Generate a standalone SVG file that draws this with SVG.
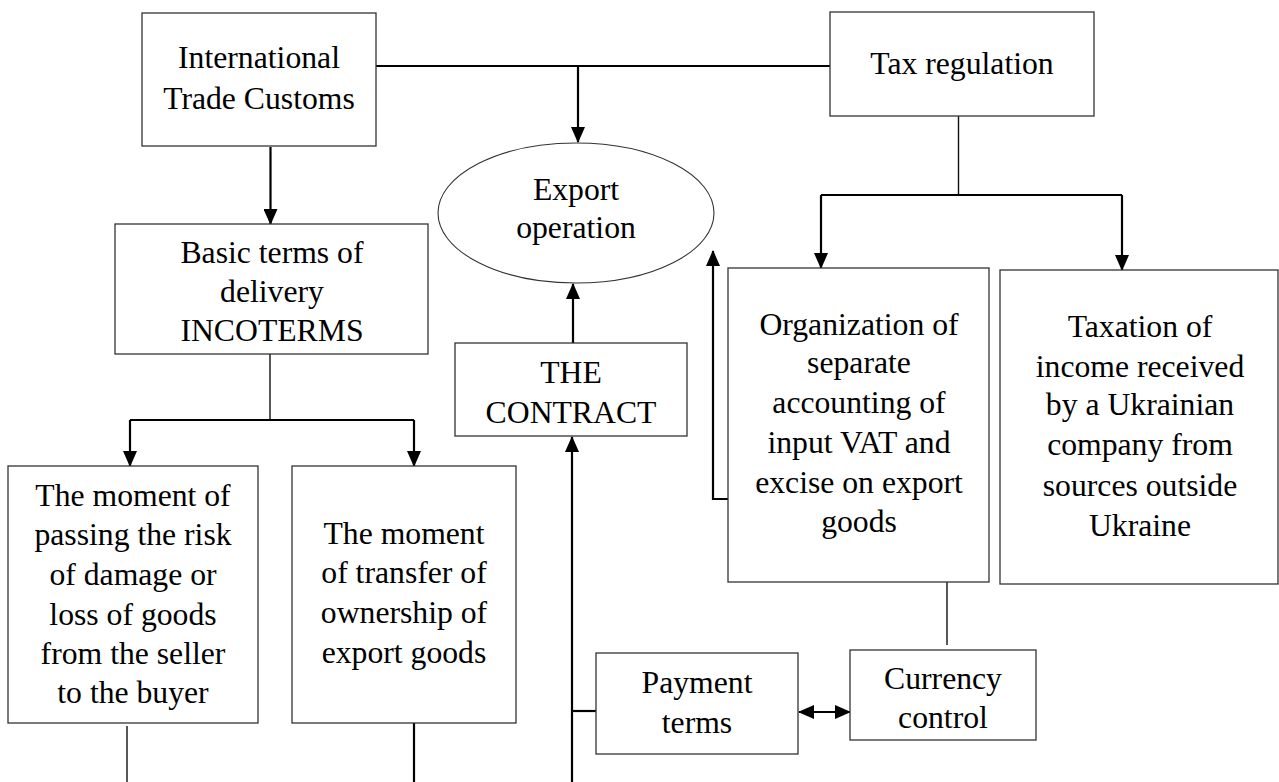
<svg xmlns="http://www.w3.org/2000/svg" width="1279" height="782" viewBox="0 0 1279 782">
  <style>
    .box { fill: #ffffff; stroke: #333333; stroke-width: 1.3; }
    .oval { fill: #ffffff; stroke: #333333; stroke-width: 1.1; }
    .lbl { font-family: "Liberation Serif", "Times New Roman", serif; font-size: 31.7px; fill: #000000; text-anchor: middle; }
    .thick { fill: none; stroke: #000000; stroke-width: 2.2; }
    .thin { fill: none; stroke: #111111; stroke-width: 1.4; }
    .arr { marker-end: url(#head); }
  </style>
  <defs>
    <marker id="head" markerUnits="userSpaceOnUse" markerWidth="16" markerHeight="14" refX="15" refY="7" orient="auto-start-reverse">
      <path d="M0,0 L16,7 L0,14 z" fill="#000000"/>
    </marker>
  </defs>

  <rect width="1279" height="782" fill="#ffffff"/>

  <!-- connectors -->
  <g id="connectors">
    <!-- customs to tax regulation, with drop into the export operation -->
    <line class="thick" x1="376" y1="66" x2="830" y2="66"/>
    <line class="thick arr" x1="578" y1="66" x2="578" y2="142"/>
    <!-- customs to delivery terms -->
    <line class="thick arr" x1="270.5" y1="147" x2="270.5" y2="224"/>
    <!-- delivery terms split -->
    <line class="thin" x1="270" y1="354" x2="270" y2="420"/>
    <polyline class="thick" points="130,420 414,420"/>
    <line class="thick arr" x1="130" y1="420" x2="130" y2="466"/>
    <line class="thick arr" x1="414" y1="420" x2="414" y2="466"/>
    <!-- tails below the moment boxes -->
    <line class="thin" x1="127" y1="726" x2="127" y2="782"/>
    <line class="thick" x1="414" y1="723" x2="414" y2="782"/>
    <!-- contract to export operation -->
    <line class="thick arr" x1="573" y1="343" x2="573" y2="284"/>
    <!-- feed into the contract from below -->
    <line class="thick arr" x1="572" y1="782" x2="572" y2="437"/>
    <line class="thick" x1="572" y1="711" x2="597" y2="711"/>
    <!-- tax regulation split -->
    <line class="thin" x1="958.5" y1="116" x2="958.5" y2="195"/>
    <line class="thick" x1="821" y1="195" x2="1122" y2="195"/>
    <line class="thick arr" x1="821" y1="195" x2="821" y2="268"/>
    <line class="thick arr" x1="1122" y1="195" x2="1122" y2="270"/>
    <!-- separate accounting back to export operation -->
    <polyline class="thick arr" points="728,499 713,499 713,251"/>
    <!-- separate accounting to currency control -->
    <line class="thin" x1="947" y1="582" x2="947" y2="645"/>
    <!-- payment terms and currency control -->
    <line class="thick" x1="799" y1="712" x2="850" y2="712" marker-start="url(#head)" marker-end="url(#head)"/>
  </g>

  <g id="customs">
    <rect class="box" x="142" y="13" width="234" height="133"/>
    <text class="lbl" x="259" y="68">International</text>
    <text class="lbl" x="259" y="109">Trade Customs</text>
  </g>

  <g id="export-operation">
    <ellipse class="oval" cx="576" cy="213" rx="138" ry="70"/>
    <text class="lbl" x="576" y="200">Export</text>
    <text class="lbl" x="576" y="238">operation</text>
  </g>

  <g id="tax-regulation">
    <rect class="box" x="830" y="12" width="264" height="104"/>
    <text class="lbl" x="962" y="74">Tax regulation</text>
  </g>

  <g id="delivery-terms">
    <rect class="box" x="115" y="224" width="313" height="130"/>
    <text class="lbl" x="272" y="263">Basic terms of</text>
    <text class="lbl" x="272" y="302">delivery</text>
    <text class="lbl" x="272" y="341">INCOTERMS</text>
  </g>

  <g id="contract">
    <rect class="box" x="455" y="343" width="232" height="93"/>
    <text class="lbl" x="571" y="383">THE</text>
    <text class="lbl" x="571" y="423">CONTRACT</text>
  </g>

  <g id="risk-moment">
    <rect class="box" x="8" y="466" width="250" height="257"/>
    <text class="lbl" x="133" y="506">The moment of</text>
    <text class="lbl" x="133" y="545">passing the risk</text>
    <text class="lbl" x="133" y="585">of damage or</text>
    <text class="lbl" x="133" y="625">loss of goods</text>
    <text class="lbl" x="133" y="664">from the seller</text>
    <text class="lbl" x="133" y="703">to the buyer</text>
  </g>

  <g id="ownership-moment">
    <rect class="box" x="292" y="466" width="224" height="257"/>
    <text class="lbl" x="404" y="544">The moment</text>
    <text class="lbl" x="404" y="583">of transfer of</text>
    <text class="lbl" x="404" y="623">ownership of</text>
    <text class="lbl" x="404" y="663">export goods</text>
  </g>

  <g id="separate-accounting">
    <rect class="box" x="728" y="268" width="261" height="314"/>
    <text class="lbl" x="859" y="335">Organization of</text>
    <text class="lbl" x="859" y="373">separate</text>
    <text class="lbl" x="859" y="413">accounting of</text>
    <text class="lbl" x="859" y="453">input VAT and</text>
    <text class="lbl" x="859" y="493">excise on export</text>
    <text class="lbl" x="859" y="532">goods</text>
  </g>

  <g id="foreign-income">
    <rect class="box" x="1000" y="270" width="278" height="314"/>
    <text class="lbl" x="1140" y="337">Taxation of</text>
    <text class="lbl" x="1140" y="377">income received</text>
    <text class="lbl" x="1140" y="415">by a Ukrainian</text>
    <text class="lbl" x="1140" y="455">company from</text>
    <text class="lbl" x="1140" y="496">sources outside</text>
    <text class="lbl" x="1140" y="536">Ukraine</text>
  </g>

  <g id="payment-terms">
    <rect class="box" x="596" y="653" width="202" height="101"/>
    <text class="lbl" x="697" y="693">Payment</text>
    <text class="lbl" x="697" y="733">terms</text>
  </g>

  <g id="currency-control">
    <rect class="box" x="850" y="650" width="186" height="90"/>
    <text class="lbl" x="943" y="689">Currency</text>
    <text class="lbl" x="943" y="728">control</text>
  </g>
</svg>
